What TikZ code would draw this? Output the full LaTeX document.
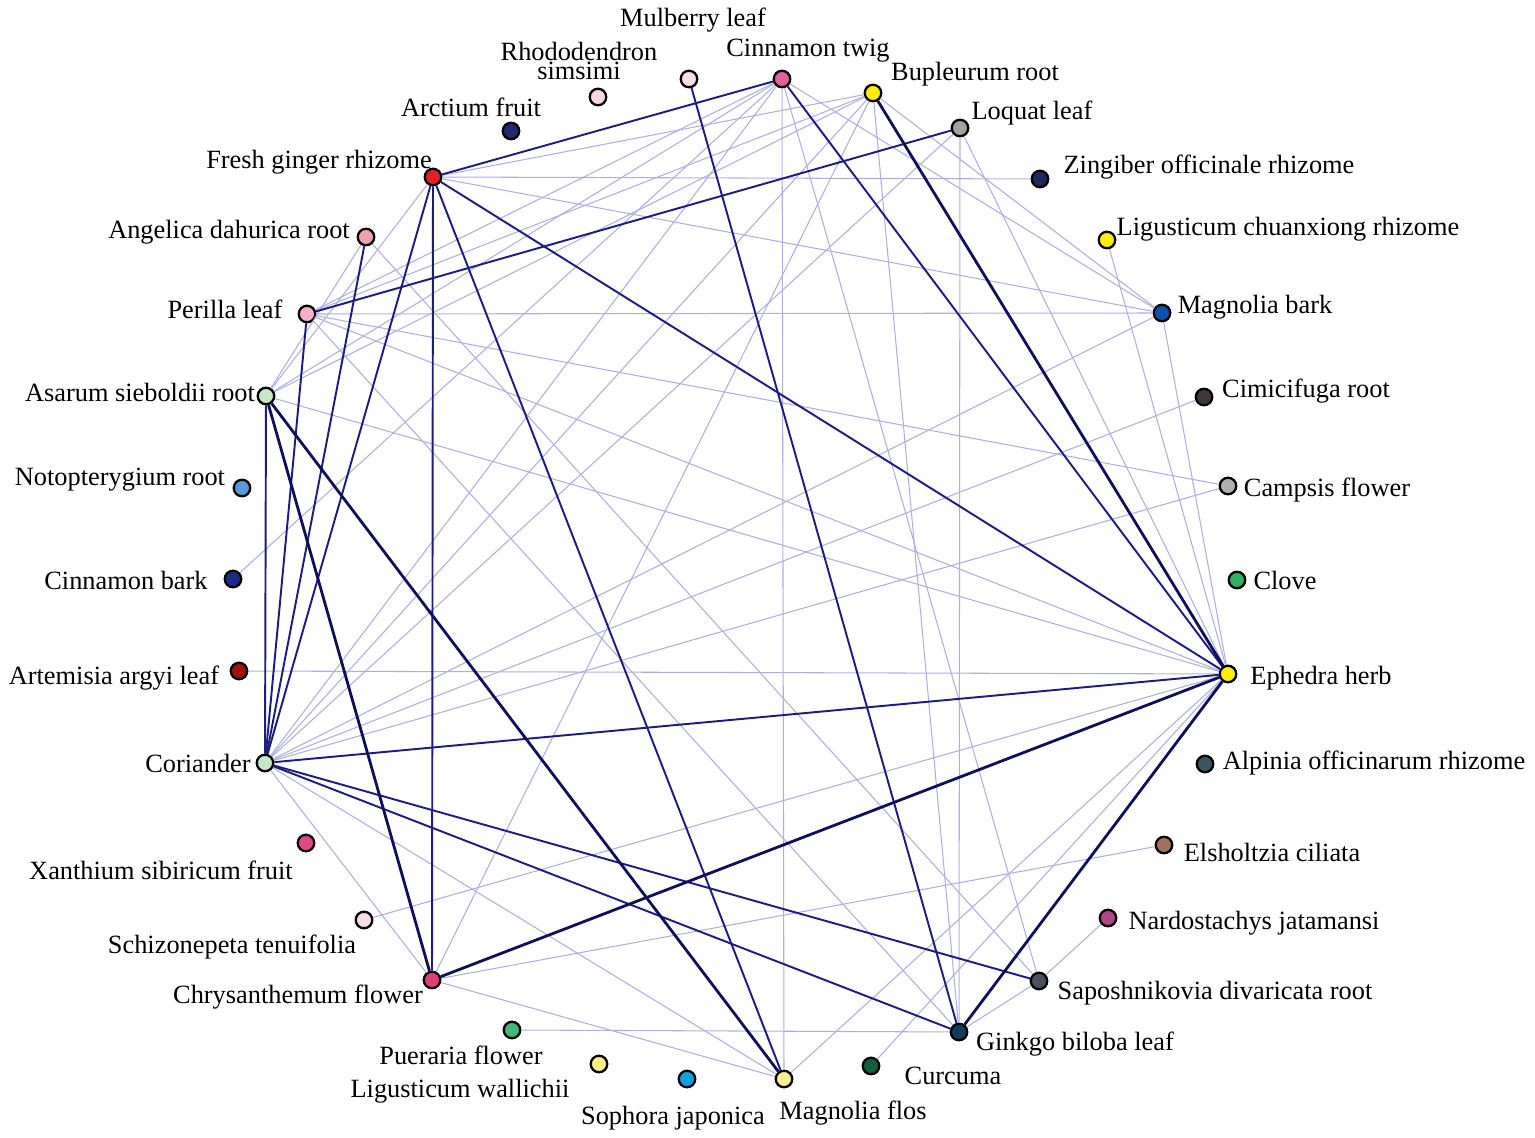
\documentclass[tikz,border=0pt]{standalone}
\usepackage{fontspec}
\setmainfont{Liberation Serif}
\definecolor{darkedge}{HTML}{1C1C82}
\definecolor{deepedge}{HTML}{0F0F5A}
\definecolor{lightedge}{HTML}{AFAFDF}
\begin{document}
\begin{tikzpicture}[x=0.02cm,y=-0.02cm]
  \useasboundingbox (0,0) rectangle (1535,1138);
  \tikzset{herb/.style={circle, draw=black, line width=1.3pt, minimum size=0.33cm, inner sep=0pt},
           tag/.style={anchor=base, inner sep=0pt, font=\fontsize{15}{15}\selectfont}}

  % herb nodes
  \begin{scope}
    \node [herb, fill={rgb,255:red,246;green,222;blue,230}] (mul) at (689,79) {};
    \node [herb, fill={rgb,255:red,228;green,96;blue,156}] (ctw) at (782,79) {};
    \node [herb, fill={rgb,255:red,246;green,216;blue,226}] (rho) at (598,97) {};
    \node [herb, fill={rgb,255:red,255;green,238;blue,0}] (bup) at (873,93) {};
    \node [herb, fill={rgb,255:red,32;green,42;blue,110}] (arc) at (511,131) {};
    \node [herb, fill={rgb,255:red,160;green,160;blue,160}] (loq) at (960,128) {};
    \node [herb, fill={rgb,255:red,226;green,32;blue,42}] (fgr) at (433,177) {};
    \node [herb, fill={rgb,255:red,30;green,42;blue,90}] (zin) at (1040,179) {};
    \node [herb, fill={rgb,255:red,240;green,160;blue,176}] (ang) at (366,237) {};
    \node [herb, fill={rgb,255:red,255;green,238;blue,0}] (lig) at (1107,240) {};
    \node [herb, fill={rgb,255:red,244;green,176;blue,200}] (per) at (307,314) {};
    \node [herb, fill={rgb,255:red,16;green,80;blue,176}] (mab) at (1162,313) {};
    \node [herb, fill={rgb,255:red,200;green,230;blue,200}] (asa) at (266,396) {};
    \node [herb, fill={rgb,255:red,64;green,56;blue,56}] (cim) at (1204,397) {};
    \node [herb, fill={rgb,255:red,90;green,154;blue,216}] (not) at (242,488) {};
    \node [herb, fill={rgb,255:red,176;green,176;blue,176}] (cam) at (1228,486) {};
    \node [herb, fill={rgb,255:red,30;green,42;blue,138}] (cib) at (233,579) {};
    \node [herb, fill={rgb,255:red,48;green,176;blue,96}] (clo) at (1237,580) {};
    \node [herb, fill={rgb,255:red,160;green,16;blue,16}] (art) at (239,671) {};
    \node [herb, fill={rgb,255:red,255;green,238;blue,0}] (eph) at (1228,674) {};
    \node [herb, fill={rgb,255:red,200;green,230;blue,200}] (cor) at (265,763) {};
    \node [herb, fill={rgb,255:red,58;green,85;blue,96}] (alp) at (1205,764) {};
    \node [herb, fill={rgb,255:red,160;green,112;blue,96}] (els) at (1164,845) {};
    \node [herb, fill={rgb,255:red,224;green,72;blue,136}] (xan) at (306,843) {};
    \node [herb, fill={rgb,255:red,176;green,72;blue,136}] (nar) at (1108,918) {};
    \node [herb, fill={rgb,255:red,246;green,222;blue,230}] (sch) at (364,920) {};
    \node [herb, fill={rgb,255:red,74;green,80;blue,96}] (sap) at (1039,981) {};
    \node [herb, fill={rgb,255:red,224;green,64;blue,122}] (chr) at (432,980) {};
    \node [herb, fill={rgb,255:red,21;green,58;blue,90}] (gin) at (959,1032) {};
    \node [herb, fill={rgb,255:red,64;green,184;blue,120}] (pue) at (512,1030) {};
    \node [herb, fill={rgb,255:red,16;green,96;blue,64}] (cur) at (871,1066) {};
    \node [herb, fill={rgb,255:red,248;green,240;blue,128}] (lwa) at (599,1064) {};
    \node [herb, fill={rgb,255:red,16;green,160;blue,224}] (sop) at (687,1079) {};
    \node [herb, fill={rgb,255:red,248;green,240;blue,144}] (maf) at (784,1079) {};
  \end{scope}

  % labels
  \begin{scope}[every node/.style={tag}]
    \node (l-mul) at (693,27) {Mulberry leaf};
    \node (l-ctw) at (808,57) {Cinnamon twig};
    \node [align=center, font=\fontsize{15}{9.5}\selectfont] (l-rho) at (579,80) {Rhododendron\\simsimi};
    \node (l-bup) at (975,81) {Bupleurum root};
    \node (l-arc) at (471,117) {Arctium fruit};
    \node (l-loq) at (1032,120) {Loquat leaf};
    \node (l-fgr) at (319,169) {Fresh ginger rhizome};
    \node (l-zin) at (1209,174) {Zingiber officinale rhizome};
    \node (l-ang) at (229,239) {Angelica dahurica root};
    \node (l-lig) at (1288,236) {Ligusticum chuanxiong rhizome};
    \node (l-per) at (225,319) {Perilla leaf};
    \node (l-mab) at (1255,314) {Magnolia bark};
    \node (l-asa) at (140,401) {Asarum sieboldii root};
    \node (l-cim) at (1306,398) {Cimicifuga root};
    \node (l-not) at (120,485) {Notopterygium root};
    \node (l-cam) at (1327,497) {Campsis flower};
    \node (l-cib) at (126,589) {Cinnamon bark};
    \node (l-clo) at (1285,589) {Clove};
    \node (l-art) at (114,684) {Artemisia argyi leaf};
    \node (l-eph) at (1321,684) {Ephedra herb};
    \node (l-cor) at (198,772) {Coriander};
    \node (l-alp) at (1374,769) {Alpinia officinarum rhizome};
    \node (l-els) at (1272,861) {Elsholtzia ciliata};
    \node (l-xan) at (161,879) {Xanthium sibiricum fruit};
    \node (l-nar) at (1254,929) {Nardostachys jatamansi};
    \node (l-sch) at (232,953) {Schizonepeta tenuifolia};
    \node (l-sap) at (1215,999) {Saposhnikovia divaricata root};
    \node (l-chr) at (298,1003) {Chrysanthemum flower};
    \node (l-gin) at (1075,1050) {Ginkgo biloba leaf};
    \node (l-pue) at (461,1064) {Pueraria flower};
    \node (l-cur) at (953,1084) {Curcuma};
    \node (l-lwa) at (460,1097) {Ligusticum wallichii};
    \node (l-sop) at (673,1124) {Sophora japonica};
    \node (l-maf) at (853,1119) {Magnolia flos};
  \end{scope}

  % weak links
  \begin{scope}[lightedge, line width=0.6pt]
    \foreach \a/\b in {fgr/zin, fgr/bup, fgr/mab, fgr/asa,
                       ctw/maf, ctw/mab, ctw/cib, ctw/asa, ctw/per, ctw/sap, ctw/cor,
                       bup/per, bup/asa, bup/cor, bup/chr, bup/gin, bup/mab,
                       loq/gin, loq/eph, loq/cor, lig/eph,
                       ang/asa, ang/sap,
                       per/mab, per/cam, per/eph, per/gin,
                       asa/eph, art/eph,
                       cor/cim, cor/cam, cor/mab, cor/chr, cor/maf,
                       sch/eph, chr/els, chr/maf, pue/gin,
                       eph/maf, eph/cur, mab/eph, nar/sap, sap/gin}
      \draw (\a) -- (\b);
  \end{scope}

  % strong links
  \begin{scope}[darkedge, line width=1.1pt]
    \foreach \a/\b in {fgr/ctw, fgr/eph, fgr/maf, fgr/chr, fgr/cor,
                       ctw/eph, mul/gin, loq/per, per/cor, ang/cor,
                       asa/cor, cor/eph, cor/sap, cor/gin}
      \draw (\a) -- (\b);
  \end{scope}
  \begin{scope}[deepedge, line width=1.6pt]
    \foreach \a/\b in {bup/eph, asa/chr, asa/maf, chr/eph, eph/gin}
      \draw (\a) -- (\b);
  \end{scope}
\end{tikzpicture}
\end{document}
